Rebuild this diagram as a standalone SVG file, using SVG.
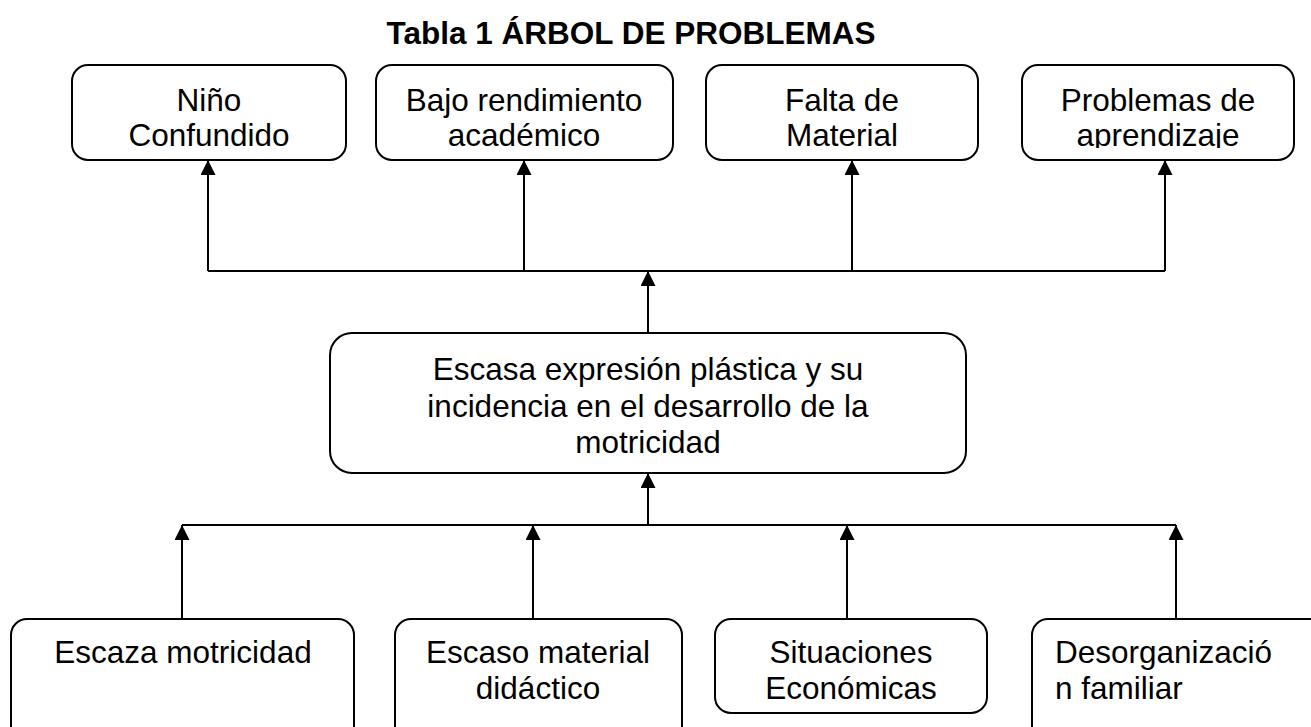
<svg xmlns="http://www.w3.org/2000/svg" width="1311" height="727" viewBox="0 0 1311 727">
<style>
  .box { fill: #ffffff; stroke: #000000; stroke-width: 2; }
  .t { font-family: "Liberation Sans", Arial, sans-serif; font-size: 31.5px; fill: #000000; }
  .c { text-anchor: middle; }
  .title { font-family: "Liberation Sans", Arial, sans-serif; font-size: 31.5px; font-weight: bold; fill: #000000; text-anchor: middle; }
  .ln { fill: none; stroke: #000000; stroke-width: 2; }
  .ar { fill: none; stroke: #000000; stroke-width: 2; marker-end: url(#ah); }
</style>
<defs>
  <marker id="ah" markerUnits="userSpaceOnUse" markerWidth="15" markerHeight="15" viewBox="0 0 15 15" refX="15" refY="7.5" orient="auto">
    <path d="M0,0 L15,7.5 L0,15 z" fill="#000000"/>
  </marker>
  <clipPath id="topclip">
    <rect x="0" y="60" width="1311" height="88"/>
  </clipPath>
</defs>
<rect width="1311" height="727" fill="#ffffff"/>
<text class="title" x="631" y="44">Tabla 1 ÁRBOL DE PROBLEMAS</text>

<g id="connectors">
  <line class="ln" x1="208" y1="271" x2="1165" y2="271"/>
  <line class="ar" x1="208" y1="271" x2="208" y2="160"/>
  <line class="ar" x1="524" y1="271" x2="524" y2="160"/>
  <line class="ar" x1="852" y1="271" x2="852" y2="160"/>
  <line class="ar" x1="1165" y1="271" x2="1165" y2="160"/>
  <line class="ar" x1="648" y1="333" x2="648" y2="271"/>
  <line class="ar" x1="648" y1="525" x2="648" y2="473"/>
  <line class="ln" x1="182" y1="525" x2="1176" y2="525"/>
  <line class="ar" x1="182" y1="619" x2="182" y2="525"/>
  <line class="ar" x1="533" y1="619" x2="533" y2="525"/>
  <line class="ar" x1="847" y1="619" x2="847" y2="525"/>
  <line class="ar" x1="1176" y1="619" x2="1176" y2="525"/>
</g>

<g id="n1">
  <rect class="box" x="72" y="65" width="274" height="95" rx="16"/>
  <g clip-path="url(#topclip)"><text class="t c" x="209" y="111">Niño</text><text class="t c" x="209" y="146">Confundido</text></g>
</g>
<g id="n2">
  <rect class="box" x="376" y="65" width="297" height="95" rx="16"/>
  <g clip-path="url(#topclip)"><text class="t c" x="524" y="111">Bajo rendimiento</text><text class="t c" x="524" y="146">académico</text></g>
</g>
<g id="n3">
  <rect class="box" x="706" y="65" width="272" height="95" rx="16"/>
  <g clip-path="url(#topclip)"><text class="t c" x="842" y="111">Falta de</text><text class="t c" x="842" y="146">Material</text></g>
</g>
<g id="n4">
  <rect class="box" x="1022" y="65" width="272" height="95" rx="16"/>
  <g clip-path="url(#topclip)"><text class="t c" x="1158" y="111">Problemas de</text><text class="t c" x="1158" y="146">aprendizaje</text></g>
</g>

<g id="center">
  <rect class="box" x="330" y="333" width="636" height="140" rx="22"/>
  <text class="t c" x="648" y="380">Escasa expresión plástica y su</text>
  <text class="t c" x="648" y="417">incidencia en el desarrollo de la</text>
  <text class="t c" x="648" y="453">motricidad</text>
</g>

<g id="b1">
  <rect class="box" x="11" y="619" width="343" height="130" rx="16"/>
  <text class="t c" x="183" y="663">Escaza motricidad</text>
</g>
<g id="b2">
  <rect class="box" x="395" y="619" width="287" height="130" rx="16"/>
  <text class="t c" x="538" y="663">Escaso material</text>
  <text class="t c" x="538" y="699">didáctico</text>
</g>
<g id="b3">
  <rect class="box" x="715" y="619" width="272" height="94" rx="16"/>
  <text class="t c" x="851" y="663">Situaciones</text>
  <text class="t c" x="851" y="699">Económicas</text>
</g>
<g id="b4">
  <rect class="box" x="1032" y="619" width="300" height="130" rx="16"/>
  <text class="t" x="1055" y="663">Desorganizació</text>
  <text class="t" x="1055" y="699">n familiar</text>
</g>
</svg>
